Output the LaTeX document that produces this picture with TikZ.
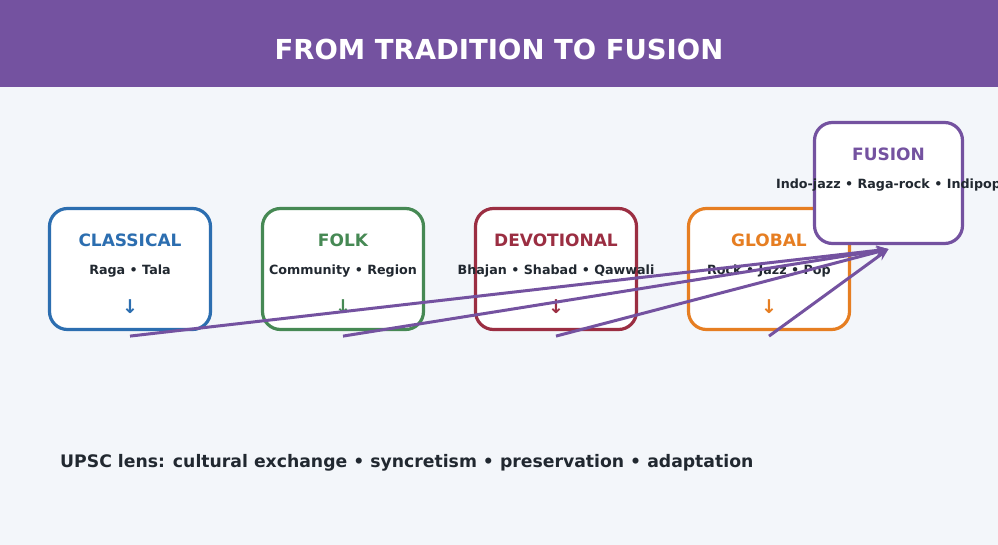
\documentclass[tikz,border=0pt]{standalone}
\usepackage{fontspec}
\setmainfont{DejaVu Sans}
\usetikzlibrary{arrows.meta}
\definecolor{bg}{RGB}{243,246,250}
\definecolor{ink}{RGB}{33,40,48}
\definecolor{classical}{RGB}{44,110,176}
\definecolor{folk}{RGB}{70,137,84}
\definecolor{devotional}{RGB}{155,46,66}
\definecolor{global}{RGB}{230,126,34}
\definecolor{fusion}{RGB}{116,82,160}

\begin{document}
\begin{tikzpicture}[x=1pt,y=-1pt]
			\tikzset{
			  BoxStyle/.style = { draw = #1, fill = white, line width = 3.2pt,
			                      rounded corners = 18pt, inner sep = 0pt,
			                      minimum width = 161pt, minimum height = 121pt },
			  TitleStyle/.style = { text = #1, font = \fontsize{17}{20}\selectfont\bfseries },
			  LabelStyle/.style = { text = ink, font = \fontsize{12.7}{15}\selectfont\bfseries },
			  DownStyle/.style = { text = #1, font = \fontsize{19}{20}\selectfont\bfseries },
			  EdgeStyle/.style = { draw = fusion, line width = 3pt,
			                       -{Stealth[length = 12pt, width = 10pt]} } }
			% canvas
			\fill[bg] (0,0) rectangle (998,545);
			\useasboundingbox (0,0) rectangle (998,545);
			\fill[fusion] (0,0) rectangle (998,87);
			\node[text = white, font = \fontsize{27.5}{30}\selectfont\bfseries] (header) at (499,49) {FROM TRADITION TO FUSION};
			% streams
			\node[BoxStyle = classical] (classical) at (130,269) {};
			\node[TitleStyle = classical] (classical-title) at ([yshift=29pt]classical.center) {CLASSICAL};
			\node[LabelStyle] (classical-label) at ([yshift=-2pt]classical.center) {Raga • Tala};
			\node[DownStyle = classical] (classical-down) at ([yshift=-38pt]classical.center) {↓};
			\node[BoxStyle = folk] (folk) at (343,269) {};
			\node[TitleStyle = folk] (folk-title) at ([yshift=29pt]folk.center) {FOLK};
			\node[LabelStyle] (folk-label) at ([yshift=-2pt]folk.center) {Community • Region};
			\node[DownStyle = folk] (folk-down) at ([yshift=-38pt]folk.center) {↓};
			\node[BoxStyle = devotional] (devotional) at (556,269) {};
			\node[TitleStyle = devotional] (devotional-title) at ([yshift=29pt]devotional.center) {DEVOTIONAL};
			\node[LabelStyle] (devotional-label) at ([yshift=-2pt]devotional.center) {Bhajan • Shabad • Qawwali};
			\node[DownStyle = devotional] (devotional-down) at ([yshift=-38pt]devotional.center) {↓};
			\node[BoxStyle = global] (global) at (769,269) {};
			\node[TitleStyle = global] (global-title) at ([yshift=29pt]global.center) {GLOBAL};
			\node[LabelStyle] (global-label) at ([yshift=-2pt]global.center) {Rock • Jazz • Pop};
			\node[DownStyle = global] (global-down) at ([yshift=-38pt]global.center) {↓};
			% fusion
			\node[BoxStyle = fusion, minimum width = 148pt] (fusion) at (888.5,183) {};
			\node[TitleStyle = fusion] (fusion-title) at ([yshift=29pt]fusion.center) {FUSION};
			\node[LabelStyle] (fusion-label) at ([yshift=-2pt]fusion.center) {Indo-jazz • Raga-rock • Indipop};
			\coordinate (fusion-in) at ([yshift=-4pt]fusion.south);
			\coordinate (classical-out) at ([yshift=-5pt]classical.south);
			\coordinate (folk-out) at ([yshift=-5pt]folk.south);
			\coordinate (devotional-out) at ([yshift=-5pt]devotional.south);
			\coordinate (global-out) at ([yshift=-5pt]global.south);
			\draw[EdgeStyle] (classical-out) -- (fusion-in);
			\draw[EdgeStyle] (folk-out) -- (fusion-in);
			\draw[EdgeStyle] (devotional-out) -- (fusion-in);
			\draw[EdgeStyle] (global-out) -- (fusion-in);
			% footer
			\node[anchor = west, inner sep = 0pt, text = ink, font = \fontsize{17.25}{20}\selectfont\bfseries] (lens) at (60,463) {UPSC lens: cultural exchange • syncretism • preservation • adaptation};
		\end{tikzpicture}
\end{document}
